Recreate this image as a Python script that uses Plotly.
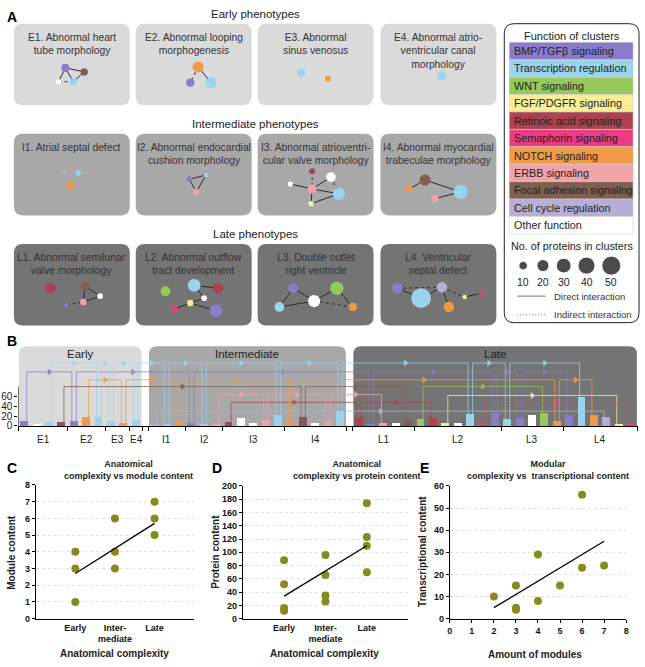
import numpy as np
import plotly.graph_objects as go

W, H = 645, 667
FONT = "Liberation Sans, Arial, sans-serif"

# ---------------- data ----------------
# cluster functions (legend of panel A)
func_keys = ["bmp", "tr", "wnt", "fgf", "ra", "sema", "notch", "erbb", "fa", "cc", "other"]
func_labels = ["BMP/TGFβ signaling", "Transcription regulation", "WNT signaling",
               "FGF/PDGFR signaling", "Retinoic acid signaling", "Semaphorin signaling",
               "NOTCH signaling", "ERBB signaling", "Focal adhesion signaling",
               "Cell cycle regulation", "Other function"]
func_colors = ["#8B7BCB", "#9AD3EC", "#95C95A", "#F7EE98", "#A8434F", "#EC3B82",
               "#F19A45", "#F2A3A8", "#7E5F52", "#B7AED6", "#FFFFFF"]
COL = dict(zip(func_keys, func_colors))

# phenotypes
pheno_ids = ["E1", "E2", "E3", "E4", "I1", "I2", "I3", "I4", "L1", "L2", "L3", "L4"]
pheno_titles = ["E1. Abnormal heart<br>tube morphology", "E2. Abnormal looping<br>morphogenesis",
                "E3. Abnormal<br>sinus venosus", "E4. Abnormal atrio-<br>ventricular canal<br>morphology",
                "I1. Atrial septal defect", "I2. Abnormal endocardial<br>cushion morphology",
                "I3. Abnormal atrioventri-<br>cular valve morphology",
                "I4. Abnormal myocardial<br>trabeculae morphology",
                "L1. Abnormal semilunar<br>valve morphology", "L2. Abnormal outflow<br>tract development",
                "L3. Double outlet<br>right ventricle", "L4. Ventricular<br>septal defect"]
stage_titles = ["Early phenotypes", "Intermediate phenotypes", "Late phenotypes"]

# network nodes (function, number of proteins)
node_pheno = ["E1"] * 4 + ["E2"] * 3 + ["E3"] * 2 + ["E4"] + ["I1"] * 3 + ["I2"] * 3 + ["I3"] * 6 + \
             ["I4"] * 4 + ["L1"] * 5 + ["L2"] * 7 + ["L3"] * 5 + ["L4"] * 6
node_func = ["bmp", "fa", "other", "tr",
             "notch", "bmp", "tr",
             "tr", "notch",
             "tr",
             "cc", "tr", "notch",
             "bmp", "tr", "erbb",
             "ra", "other", "erbb", "other", "tr", "fgf",
             "notch", "fa", "erbb", "tr",
             "ra", "fa", "other", "erbb", "bmp",
             "wnt", "tr", "ra", "other", "fgf", "sema", "bmp",
             "bmp", "wnt", "other", "tr", "notch",
             "bmp", "cc", "tr", "notch", "fgf", "sema"]
node_count = [10, 8, 4, 8,
              18, 10, 17,
              10, 5,
              12,
              3, 4, 9,
              5, 3, 6,
              5, 4, 12, 14, 22, 4,
              7, 18, 8, 30,
              16, 12, 5, 6, 3,
              14, 24, 16, 5, 6, 6, 25,
              14, 26, 22, 14, 10,
              16, 17, 58, 16, 3, 4]
# node layout inside each box (px from box corner)
node_dx = [52, 71, 45, 60, 63, 55, 76, 44, 71, 62, 51, 65, 57, 54, 71, 61,
           55, 33, 55, 74, 82, 54, 29, 45, 55, 81, 37, 72, 87, 70, 53,
           30, 59, 83, 69, 55, 39, 81, 36, 80, 57, 22, 96, 17, 62, 41, 69, 85, 102]
node_dy = [45, 49, 59, 59, 44, 60, 60, 50, 56, 53, 40, 40, 52, 46, 42, 59,
           38, 51, 56, 44, 61, 71, 56, 47, 66, 59, 45, 43, 53, 59, 62,
           48, 42, 45, 55, 60, 66, 68, 45, 45, 58, 64, 64, 45, 44, 55, 64, 54, 50]
# edges: (phenotype, node a, node b, indirect?)
edges = [("E1", 0, 1, 0), ("E1", 0, 3, 0), ("E1", 3, 1, 0), ("E1", 0, 2, 0), ("E1", 2, 3, 1),
         ("E2", 0, 2, 0), ("E2", 0, 1, 1),
         ("I2", 0, 1, 0), ("I2", 0, 2, 0), ("I2", 1, 2, 0),
         ("I3", 0, 2, 1), ("I3", 1, 2, 0), ("I3", 2, 3, 0), ("I3", 2, 4, 0), ("I3", 3, 4, 1),
         ("I3", 5, 2, 0), ("I3", 5, 4, 0),
         ("I4", 0, 1, 0), ("I4", 1, 3, 0), ("I4", 2, 3, 0),
         ("L1", 1, 3, 0), ("L1", 1, 2, 0), ("L1", 3, 2, 0), ("L1", 4, 3, 1),
         ("L2", 1, 2, 0), ("L2", 1, 3, 0), ("L2", 5, 4, 0), ("L2", 4, 3, 0), ("L2", 4, 6, 0),
         ("L3", 0, 3, 0), ("L3", 0, 2, 0), ("L3", 3, 2, 0), ("L3", 2, 1, 0), ("L3", 1, 4, 0),
         ("L3", 2, 4, 1),
         ("L4", 0, 1, 1), ("L4", 0, 2, 0), ("L4", 2, 1, 0), ("L4", 1, 3, 0), ("L4", 1, 4, 1),
         ("L4", 4, 5, 0)]
size_legend = [10, 20, 30, 40, 50]

# panel B: clusters per phenotype
bar_group = ["E1"] * 4 + ["E2"] * 3 + ["E3"] * 2 + ["E4"] + ["I1"] * 3 + ["I2"] * 3 + ["I3"] * 5 + \
            ["I4"] * 5 + ["L1"] * 5 + ["L2"] * 7 + ["L3"] * 5 + ["L4"] * 6
bar_func = ["bmp", "other", "tr", "fa", "bmp", "notch", "tr", "tr", "notch", "tr",
            "cc", "tr", "notch", "bmp", "tr", "erbb", "ra", "other", "other", "erbb", "tr",
            "notch", "fa", "other", "erbb", "tr",
            "ra", "bmp", "erbb", "other", "fa",
            "wnt", "ra", "fgf", "other", "tr", "sema", "bmp",
            "tr", "bmp", "other", "wnt", "notch",
            "bmp", "tr", "notch", "cc", "fgf", "sema"]
bar_value = [10, 4, 8, 8, 10, 18, 17, 10, 5, 12,
             3, 4, 9, 5, 3, 6, 7, 16, 6, 12, 22,
             7, 18, 6, 8, 30,
             16, 3, 6, 5, 12,
             14, 16, 6, 5, 24, 6, 25,
             14, 16, 22, 26, 10,
             22, 58, 22, 17, 3, 4]
stage_labels = ["Early", "Intermediate", "Late"]
link_level = {"tr": 128, "bmp": 110, "notch": 94, "fa": 80, "wnt": 80, "erbb": 64,
              "fgf": 62, "ra": 48, "sema": 46, "cc": 30}

# panels C-E
c_cats = ["Early", "Inter-<br>mediate", "Late"]
c_x = [1, 1, 1, 2, 2, 2, 3, 3, 3]
c_y = [4, 3, 1, 6, 4, 3, 7, 6, 5]
c_fit_x, c_fit_y = [1, 3], [2.7, 5.7]
d_x = [1, 1, 1, 1, 2, 2, 2, 2, 3, 3, 3, 3]
d_y = [88, 52, 16, 12, 96, 66, 35, 26, 174, 123, 110, 70]
d_fit_x, d_fit_y = [1, 3], [34, 110]
e_x = [2, 3, 3, 3, 4, 4, 5, 6, 6, 7]
e_y = [10, 15, 5, 4, 29, 8, 15, 56, 23, 24]
e_fit_x, e_fit_y = [2, 7], [5, 35]

# ---------------- helpers ----------------
shapes, annots = [], []


def ann(x, y, text, size=10, bold=False, color="#222", xanchor="center", yanchor="middle",
        xref="x", yref="y", angle=0):
    annots.append(dict(x=x, y=y, xref=xref, yref=yref, text=text, showarrow=False,
                       xanchor=xanchor, yanchor=yanchor, textangle=angle,
                       font=dict(size=size, color=color, family=FONT,
                                 weight="bold" if bold else "normal")))


def rpath(x0, y0, x1, y1, r, top_only=False):
    if top_only:
        return (f"M{x0},{y1} L{x0},{y0 + r} Q{x0},{y0} {x0 + r},{y0} L{x1 - r},{y0} "
                f"Q{x1},{y0} {x1},{y0 + r} L{x1},{y1} Z")
    return (f"M{x0 + r},{y0} L{x1 - r},{y0} Q{x1},{y0} {x1},{y0 + r} L{x1},{y1 - r} "
            f"Q{x1},{y1} {x1 - r},{y1} L{x0 + r},{y1} Q{x0},{y1} {x0},{y1 - r} "
            f"L{x0},{y0 + r} Q{x0},{y0} {x0 + r},{y0} Z")


def node_size(n):
    return max(4.5, 2.6 * np.sqrt(n))


def dom_x(a, b):
    return [a / W, b / W]


def dom_y(top, bottom):
    return [1 - bottom / H, 1 - top / H]


fig = go.Figure()

# ---------------- panel A ----------------
stage_fill = ["#DADADA", "#A8A8A8", "#747474"]
col_x0 = [11, 134, 257, 381]
row_y0 = [19, 131, 243]
BW, BH = 117, 83
origin = {}
for i, pid in enumerate(pheno_ids):
    r, c = divmod(i, 4)
    x0, y0 = col_x0[c], row_y0[r]
    origin[pid] = (x0, y0)
    shapes.append(dict(type="path", path=rpath(x0, y0, x0 + BW, y0 + BH, 9), xref="x", yref="y",
                       fillcolor=stage_fill[r], line_width=0, layer="below"))
    ann(x0 + BW / 2, y0 + 6, pheno_titles[i], size=10.3, color="#333", yanchor="top")
for r, t in enumerate(stage_titles):
    ann(255, row_y0[r] - 10, t, size=11.5, color="#222")

node_x = [origin[p][0] + dx for p, dx in zip(node_pheno, node_dx)]
node_y = [origin[p][1] + dy for p, dy in zip(node_pheno, node_dy)]
first_idx = {}
for k, p in enumerate(node_pheno):
    first_idx.setdefault(p, k)

for dotted in (0, 1):
    ex, ey = [], []
    for p, a, b, kind in edges:
        if kind != dotted:
            continue
        ia, ib = first_idx[p] + a, first_idx[p] + b
        ex += [node_x[ia], node_x[ib], None]
        ey += [node_y[ia], node_y[ib], None]
    fig.add_trace(go.Scatter(x=ex, y=ey, mode="lines", xaxis="x", yaxis="y", hoverinfo="skip",
                             line=dict(color="#2b2b2b", width=1, dash="dot" if dotted else "solid"),
                             showlegend=False))
fig.add_trace(go.Scatter(x=node_x, y=node_y, mode="markers", xaxis="x", yaxis="y",
                         marker=dict(size=[node_size(n) for n in node_count],
                                     color=[COL[f] for f in node_func], line_width=0, opacity=1),
                         showlegend=False))

# legend box
shapes.append(dict(type="path", path=rpath(506, 19, 642, 323, 10), xref="x", yref="y",
                   fillcolor="white", line=dict(color="#222", width=1), layer="below"))
ann(574, 32, "Function of clusters", size=11)
row_h = 17.7
for i, (lab, colr) in enumerate(zip(func_labels, func_colors)):
    y0 = 38 + i * row_h
    shapes.append(dict(type="rect", x0=511, x1=636, y0=y0, y1=y0 + row_h, xref="x", yref="y",
                       fillcolor=colr, line=dict(color="#CFCFCF", width=0.6), layer="below"))
    ann(514, y0 + row_h / 2, lab, size=10.8, xanchor="left")
ann(574, 245, "No. of proteins in clusters", size=10.8)
size_x = [525, 545, 566, 589, 614]
fig.add_trace(go.Scatter(x=size_x, y=[265] * 5, mode="markers", xaxis="x", yaxis="y",
                         marker=dict(size=[2.7 * np.sqrt(n) for n in size_legend], color="black"),
                         showlegend=False, hoverinfo="skip"))
for sx, n in zip(size_x, size_legend):
    ann(sx, 282, str(n), size=10.5)
shapes.append(dict(type="line", x0=519, x1=548, y0=296, y1=296, xref="x", yref="y",
                   line=dict(color="#777", width=1)))
ann(554, 296, "Direct interaction", size=9.5, xanchor="left", color="#333")
shapes.append(dict(type="line", x0=519, x1=548, y0=315, y1=315, xref="x", yref="y",
                   line=dict(color="#777", width=1, dash="1px,2px")))
ann(554, 315, "Indirect interaction", size=9.5, xanchor="left", color="#333")

# ---------------- panel B ----------------
B_X0, B_X1, N_SLOT = 15.5, 640.5, 50
B_Y0, B_TOP, Y_MAX = 428, 347, 162
stage_idx = {"E": 0, "I": 1, "L": 2}
bar_slot = [k + 0.5 + 0.5 * stage_idx[g[0]] for k, g in enumerate(bar_group)]


def slot_px(s):
    return B_X0 + s * (B_X1 - B_X0) / N_SLOT


# stage backgrounds
for s, lab in enumerate(stage_labels):
    sl = [bs for bs, g in zip(bar_slot, bar_group) if stage_idx[g[0]] == s]
    x0, x1 = slot_px(min(sl) - 0.45), slot_px(max(sl) + 0.45)
    shapes.append(dict(type="path", path=rpath(x0, B_TOP, x1, B_Y0, 8, top_only=True),
                       xref="x", yref="y", fillcolor=stage_fill[s], line_width=0, layer="below"))
    ann((x0 + x1) / 2, 355, lab, size=11.5, color="#222")

# group ticks and labels
bounds = set()
for g in pheno_ids:
    sl = [bs for bs, gg in zip(bar_slot, bar_group) if gg == g]
    lo, hi = min(sl) - 0.5, max(sl) + 0.5
    bounds.update([lo, hi])
    ann((lo + hi) / 2, 442, g, size=10, xref="x2", yref="y")

# links between clusters of the same function
for f in func_keys:
    if f == "other":
        continue
    idx = [k for k, bf in enumerate(bar_func) if bf == f]
    lx, ly, ax, ay = [], [], [], []
    lev = link_level[f]
    for a, b in zip(idx[:-1], idx[1:]):
        if bar_group[a] == bar_group[b]:
            continue
        xa, xb = bar_slot[a] + 0.18, bar_slot[b] - 0.18
        lx += [xa, xa, xb, xb, None]
        ly += [bar_value[a], lev, lev, bar_value[b], None]
        ax.append((xa + xb) / 2)
        ay.append(lev)
    fig.add_trace(go.Scatter(x=lx, y=ly, mode="lines", xaxis="x2", yaxis="y2", opacity=0.75,
                             line=dict(color=COL[f], width=1), showlegend=False, hoverinfo="skip"))
    fig.add_trace(go.Scatter(x=ax, y=ay, mode="markers", xaxis="x2", yaxis="y2", opacity=0.9,
                             marker=dict(symbol="triangle-right", size=6, color=COL[f]),
                             showlegend=False, hoverinfo="skip"))

fig.add_trace(go.Bar(x=bar_slot, y=bar_value, width=0.64, xaxis="x6", yaxis="y6",
                     marker=dict(color=[COL[f] for f in bar_func], line_width=0),
                     showlegend=False))
shapes.append(dict(type="line", x0=0, x1=0, y0=0, y1=80, xref="x2", yref="y2",
                   line=dict(color="black", width=1)))

# ---------------- panels C, D, E ----------------
OLIVE = "#898A1C"
for xa, ya, xs, ys, fx, fy in [("x3", "y3", c_x, c_y, c_fit_x, c_fit_y),
                               ("x4", "y4", d_x, d_y, d_fit_x, d_fit_y),
                               ("x5", "y5", e_x, e_y, e_fit_x, e_fit_y)]:
    fig.add_trace(go.Scatter(x=xs, y=ys, mode="markers", xaxis=xa, yaxis=ya,
                             marker=dict(size=8, color=OLIVE), showlegend=False))
    fig.add_trace(go.Scatter(x=fx, y=fy, mode="lines", xaxis=xa, yaxis=ya,
                             line=dict(color="black", width=1.3), showlegend=False))

# panel labels and titles
for t, x, y in [("A", 9, 12), ("B", 9, 342), ("C", 9, 471), ("D", 216, 471), ("E", 425, 471)]:
    ann(x, y, t, size=14, bold=True, color="black")
ann(127, 473, "Anatomical<br>complexity vs module content", size=9, bold=True)
ann(357, 473, "Anatomical<br>complexity vs protein content", size=9, bold=True)
ann(550, 473, "Modular<br>complexity vs  transcriptional content", size=9, bold=True)
ann(113, 659, "Anatomical complexity", size=10, bold=True)
ann(325, 659, "Anatomical complexity", size=10, bold=True)
ann(537, 660, "Amount of modules", size=10, bold=True)
ann(9, 556, "Module content", size=10, bold=True, angle=-90)
ann(215, 556, "Protein content", size=10, bold=True, angle=-90)
ann(424, 556, "Transcriptional content", size=10, bold=True, angle=-90)

tick_font = dict(family=FONT, size=9, color="#111", weight="bold")
common_y = dict(showline=True, linecolor="black", linewidth=1, ticks="outside", ticklen=3,
                tickcolor="black", showgrid=True, gridcolor="#E0E0E0", griddash="dot",
                zeroline=False, tickfont=tick_font, fixedrange=True)
common_x = dict(showline=True, linecolor="black", linewidth=1, showgrid=False, zeroline=False,
                tickfont=tick_font, fixedrange=True)

hidden = dict(visible=False, fixedrange=True)
fig.update_layout(
    width=W, height=H, margin=dict(l=0, r=0, t=0, b=0),
    paper_bgcolor="white", plot_bgcolor="rgba(0,0,0,0)",
    font=dict(family=FONT), bargap=0, showlegend=False,
    xaxis=dict(domain=[0, 1], range=[0, W], **hidden),
    yaxis=dict(domain=[0, 1], range=[H, 0], **hidden),
    xaxis2=dict(domain=dom_x(B_X0, B_X1), range=[0, N_SLOT], anchor="y2", showline=True,
                linecolor="black", linewidth=1, showgrid=False, zeroline=False,
                tickvals=sorted(bounds), ticks="outside", ticklen=4, tickcolor="black",
                showticklabels=False, fixedrange=True),
    yaxis2=dict(domain=dom_y(B_TOP, B_Y0), range=[0, Y_MAX], anchor="x2", showline=False,
                showgrid=False, zeroline=False, tickvals=[0, 20, 40, 60], ticks="outside",
                ticklen=3, tickcolor="black", tickfont=dict(size=10, color="#222"),
                fixedrange=True),
    xaxis6=dict(overlaying="x2", range=[0, N_SLOT], anchor="y6", **hidden),
    yaxis6=dict(overlaying="y2", range=[0, Y_MAX], anchor="x6", **hidden),
    xaxis3=dict(domain=dom_x(33, 193), range=[0, 4], anchor="y3", tickvals=[1, 2, 3],
                ticktext=c_cats, ticks="", **common_x),
    yaxis3=dict(domain=dom_y(488, 624), range=[0, 8], dtick=1, anchor="x3", **common_y),
    xaxis4=dict(domain=dom_x(242, 409), range=[0, 4], anchor="y4", tickvals=[1, 2, 3],
                ticktext=c_cats, ticks="", **common_x),
    yaxis4=dict(domain=dom_y(489, 624), range=[0, 200], dtick=20, anchor="x4", **common_y),
    xaxis5=dict(domain=dom_x(451, 629), range=[0, 8], anchor="y5", dtick=1, ticks="outside",
                ticklen=3, tickcolor="black", **common_x),
    yaxis5=dict(domain=dom_y(489, 624), range=[0, 60], dtick=10, anchor="x5", **common_y),
    shapes=shapes, annotations=annots,
)

# the page body has a default 8px margin; drop it so the figure fills the window
fig.write_html("out.html", config={"displayModeBar": False},
               post_script="document.body.style.margin='0';")
